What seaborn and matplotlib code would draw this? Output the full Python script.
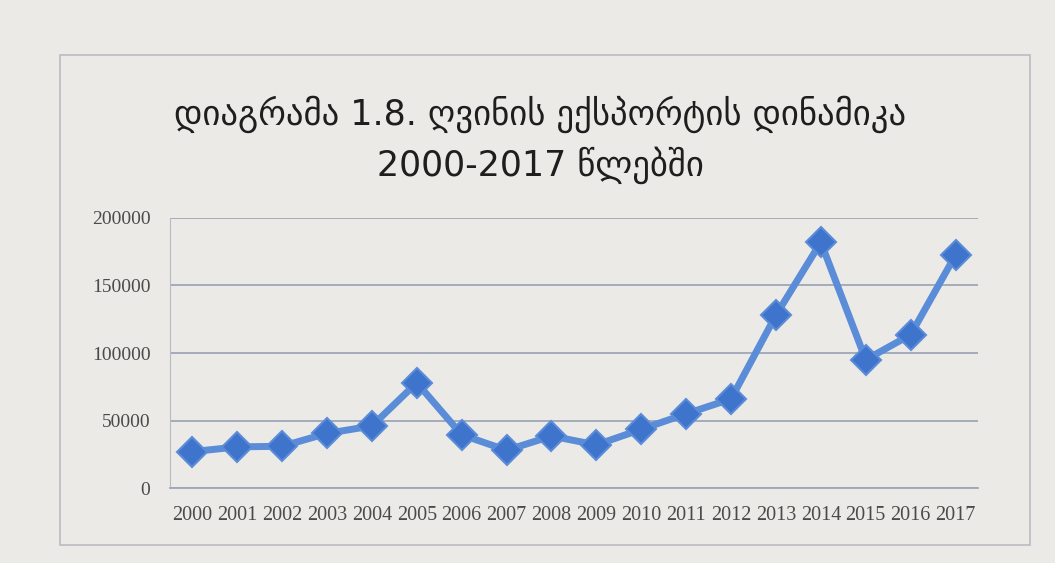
import matplotlib.pyplot as plt
import matplotlib.patches as mpatches
import seaborn as sns
import pandas as pd

# wine export, 2000-2017
years = [str(y) for y in range(2000, 2018)]
export = [27000, 30500, 31000, 40500, 46000, 78000, 39500, 28000, 38500,
          32000, 43500, 55000, 66000, 128000, 182000, 95000, 113500, 172500]
yticks = [0, 50000, 100000, 150000, 200000]

df = pd.DataFrame({"year": years, "export": export})

sns.set_style("white")
plt.rcParams['font.family'] = ['DejaVu Sans']

fig = plt.figure(figsize=(10.55, 5.63), dpi=100, facecolor="#ebeae7")
ax = fig.add_axes([0.161, 0.133, 0.766, 0.48])
ax.set_facecolor("#ebeae7")

# chart frame
fig.patches.append(mpatches.Rectangle((60 / 1055, 1 - 545 / 563), 970 / 1055, 490 / 563,
                                      transform=fig.transFigure, fill=False,
                                      edgecolor="#b9bcc4", linewidth=1.2))

sns.lineplot(data=df, x="year", y="export", ax=ax, color="#5a8cd8", linewidth=5,
             marker="D", markersize=15, markerfacecolor="#3f74cc",
             markeredgecolor="#5a8cd8", markeredgewidth=1.5, sort=False)

ax.set_xlim(-0.5, len(years) - 0.5)
ax.set_ylim(0, 200000)
ax.set_yticks(yticks)
ax.set_yticklabels([str(v) for v in yticks])
ax.yaxis.grid(True, color="#9ea6b8", linewidth=1.3)
ax.set_axisbelow(True)
for s in ["top", "right"]:
    ax.spines[s].set_visible(False)
ax.spines["left"].set_color("#b5bac6")
ax.spines["bottom"].set_color("#9ea6b8")
ax.spines["bottom"].set_linewidth(1.3)
ax.tick_params(axis="x", length=4, color="#9ea6b8", pad=9)
ax.tick_params(axis="y", length=0, pad=14)
for lab in ax.get_xticklabels():
    lab.set_family("Liberation Serif")
    lab.set_fontsize(14.5)
    lab.set_color("#4a4a4a")
for lab in ax.get_yticklabels():
    lab.set_family("Liberation Serif")
    lab.set_fontsize(14)
    lab.set_color("#4a4a4a")
ax.set_xlabel("")
ax.set_ylabel("")

fig.text(0.512, 1 - 140 / 563,
         "დიაგრამა 1.8. ღვინის ექსპორტის დინამიკა\n2000-2017 წლებში",
         ha="center", va="center", fontsize=25, color="#1e1e1e", linespacing=1.45)

fig.savefig("out.png", dpi=100, facecolor=fig.get_facecolor())
